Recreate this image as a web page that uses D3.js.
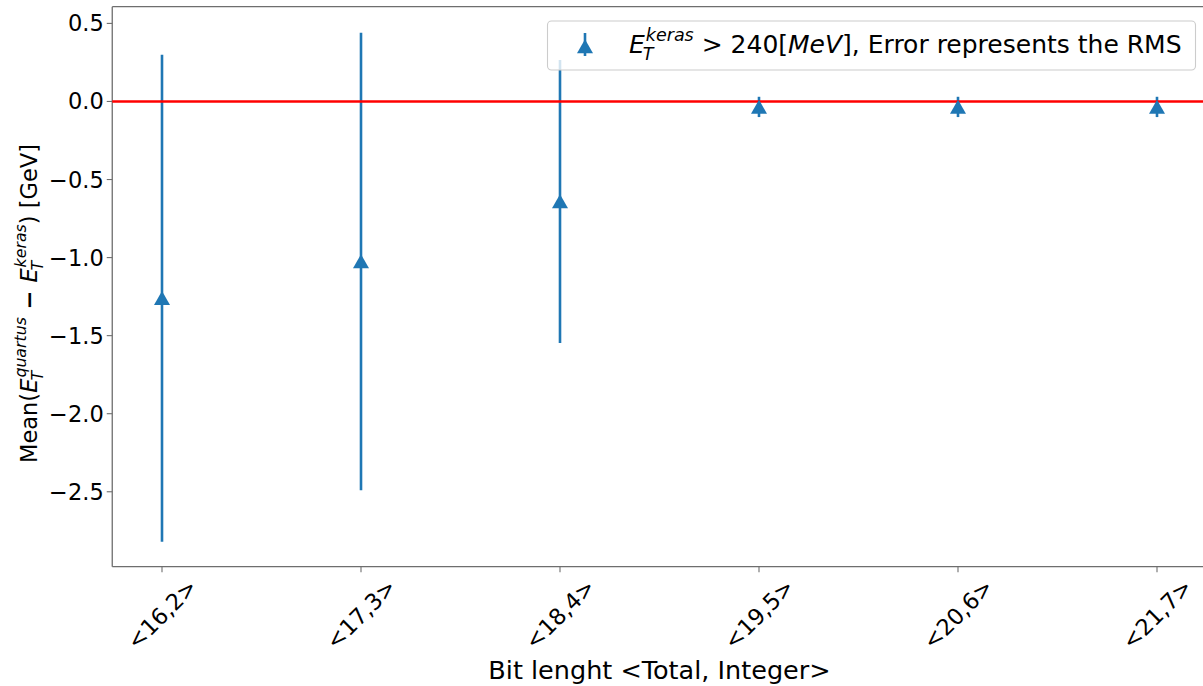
<!DOCTYPE html>
<html><head><meta charset="utf-8">
<script src="https://cdn.jsdelivr.net/npm/d3@7"></script>
<style>html,body{margin:0;padding:0;background:#fff;}svg{display:block;font-family:"DejaVu Sans",sans-serif;}</style>
</head><body>
<svg id="c" width="1203" height="686"></svg>
<script>
const categories = ["<16,2>","<17,3>","<18,4>","<19,5>","<20,6>","<21,7>"];
const means = [-1.26, -1.025, -0.641, -0.035, -0.035, -0.035];
const rms = [1.56, 1.465, 0.906, 0.065, 0.065, 0.065];
const yTicks = [0.5, 0.0, -0.5, -1.0, -1.5, -2.0, -2.5];

const svg = d3.select("#c");
const L = 112.25, R = 1206.75, T = 6.7, B = 566.7;
const x = d3.scaleLinear().domain([-0.25, categories.length - 0.75]).range([L, R]);
const y = d3.scaleLinear().domain([-2.98, 0.607]).range([B, T]);
const blue = "#1f77b4";
const fmt = v => (v < 0 ? "\u2212" : "") + Math.abs(v).toFixed(1);

// math text helper
function mathText(parent, parts, size) {
  const g = parent.append("g");
  let cx = 0;
  const put = (t, s, it, dx, dy, bold) => {
    const el = g.append("text").attr("x", cx + dx).attr("y", dy)
      .attr("font-size", s).attr("font-style", it ? "italic" : "normal")
      .attr("font-weight", bold ? "bold" : "normal")
      .attr("fill", "#000").attr("xml:space", "preserve").text(t);
    return el.node().getComputedTextLength();
  };
  parts.forEach(p => {
    if (p.base) {
      cx += put(p.base, size, true, 0, 0);
      const ss = size * 0.7;
      const w1 = put(p.sup, ss, true, 1, -0.5 * size);
      const w2 = put(p.sub, ss, true, -2, 0.27 * size);
      cx += Math.max(w1 + 1, w2 - 2);
    } else {
      cx += put(p.t, size, !!p.it, 0, 0, !!p.b);
    }
  });
  return {g, w: cx};
}

// axes spines
svg.append("line").attr("x1", L).attr("x2", L).attr("y1", T).attr("y2", B).attr("stroke", "#6e6e6e").attr("stroke-width", 1.3);
svg.append("line").attr("x1", L).attr("x2", R).attr("y1", B).attr("y2", B).attr("stroke", "#6e6e6e").attr("stroke-width", 1.3);
svg.append("line").attr("x1", L).attr("x2", R).attr("y1", T).attr("y2", T).attr("stroke", "#6e6e6e").attr("stroke-width", 1.3);
svg.append("line").attr("x1", R).attr("x2", R).attr("y1", T).attr("y2", B).attr("stroke", "#6e6e6e").attr("stroke-width", 1.3);

// y ticks
const yt = svg.append("g");
yTicks.forEach(v => {
  yt.append("line").attr("x1", L - 5.5).attr("x2", L).attr("y1", y(v)).attr("y2", y(v)).attr("stroke", "#6e6e6e").attr("stroke-width", 1.1);
  yt.append("text").attr("x", L - 8.5).attr("y", y(v)).attr("text-anchor", "end").attr("dominant-baseline", "central")
    .attr("font-size", 22.5).attr("fill", "#000").text(fmt(v));
});
// x ticks
categories.forEach((c, i) => {
  svg.append("line").attr("x1", x(i)).attr("x2", x(i)).attr("y1", B).attr("y2", B + 5.5).attr("stroke", "#6e6e6e").attr("stroke-width", 1.1);
  svg.append("text").attr("transform", `translate(${x(i)},614) rotate(-45)`).attr("text-anchor", "middle")
    .attr("dominant-baseline", "central").attr("font-size", 22.5).attr("fill", "#000").text(c);
});

// error bars
svg.append("g").selectAll("line").data(means).join("line")
  .attr("x1", (d, i) => x(i)).attr("x2", (d, i) => x(i))
  .attr("y1", (d, i) => y(d + rms[i])).attr("y2", (d, i) => y(d - rms[i]))
  .attr("stroke", blue).attr("stroke-width", 2.6);

// zero line
svg.append("line").attr("x1", L).attr("x2", R).attr("y1", y(0)).attr("y2", y(0)).attr("stroke", "red").attr("stroke-width", 2.6);

// markers
const tri = "M0,-7.2L8,6.8L-8,6.8Z";
svg.append("g").selectAll("path").data(means).join("path")
  .attr("d", tri).attr("transform", (d, i) => `translate(${x(i)},${y(d)})`).attr("fill", blue);

// x label
svg.append("text").attr("x", (L + R) / 2).attr("y", 679).attr("text-anchor", "middle").attr("font-size", 25.5)
  .attr("fill", "#000").text("Bit lenght <Total, Integer>");

// y label
const yl = mathText(svg, [
  {t: "Mean("}, {base: "E", sup: "quartus", sub: "T"}, {t: " \u2212 ", b: true},
  {base: "E", sup: "keras", sub: "T"}, {t: ") [GeV]"}], 22.5);
yl.g.attr("transform", `translate(37,${303.5 + yl.w / 2}) rotate(-90)`);

// legend
const lg = svg.append("g");
lg.append("rect").attr("x", 547.5).attr("y", 21).attr("width", 648).attr("height", 49).attr("rx", 4)
  .attr("fill", "#fff").attr("fill-opacity", 0.8).attr("stroke", "#cccccc").attr("stroke-width", 1.1);
lg.append("line").attr("x1", 585).attr("x2", 585).attr("y1", 33).attr("y2", 56).attr("stroke", blue).attr("stroke-width", 2.6);
lg.append("path").attr("d", tri).attr("transform", "translate(585,46.5)").attr("fill", blue);
const lt = mathText(lg, [
  {base: "E", sup: "keras", sub: "T"}, {t: " > 240["}, {t: "MeV", it: true}, {t: "], Error represents the RMS"}], 25);
lt.g.attr("transform", "translate(629,53)");
</script>
</body></html>
